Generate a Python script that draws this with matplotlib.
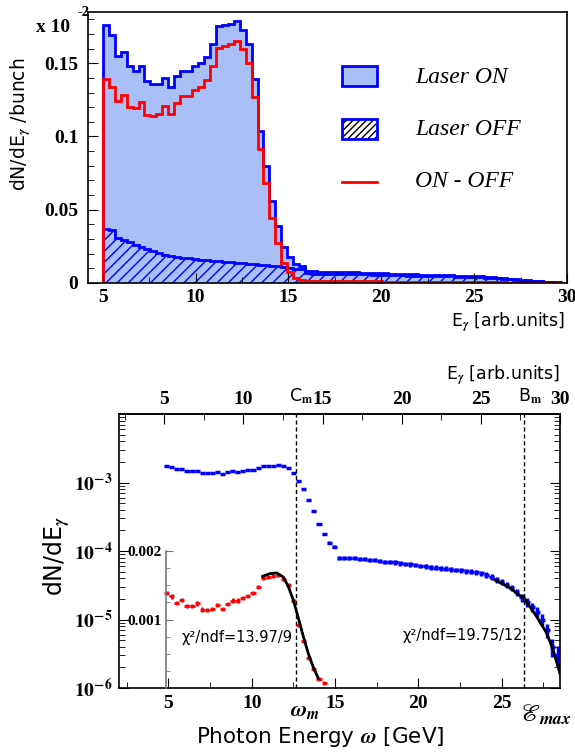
import numpy as np
import matplotlib
matplotlib.use('Agg')
import matplotlib.pyplot as plt
from matplotlib.patches import Rectangle
from matplotlib.lines import Line2D
from matplotlib.ticker import MultipleLocator, LogLocator, NullFormatter, FixedLocator, FuncFormatter

plt.rcParams['font.family'] = 'Liberation Serif'
plt.rcParams['font.weight'] = 'bold'
plt.rcParams['mathtext.fontset'] = 'stix'
plt.rcParams['hatch.linewidth'] = 1.0
plt.rcParams['axes.linewidth'] = 1.2

SANS = 'DejaVu Sans'
BLUE = '#0000ff'
RED = '#ff0000'
LIGHT = '#a9bff5'

# histogram bins in E_gamma (arb. units)
e_edges = np.linspace(5, 30, 79)

# dN/dE per bunch, in units of 1e-2
laser_on = np.array([
    0.176, 0.1696, 0.155, 0.158, 0.148, 0.145, 0.148, 0.138, 0.136, 0.136,
    0.140, 0.134, 0.141, 0.145, 0.1445, 0.148, 0.150, 0.154, 0.163, 0.1755,
    0.176, 0.177, 0.1787, 0.173, 0.163, 0.1395, 0.104, 0.080, 0.0558, 0.0387,
    0.0246, 0.0178, 0.0132,
    0.0116, 0.0080, 0.0079, 0.0078, 0.0078, 0.0077, 0.0076, 0.0075, 0.0074, 0.0072,
    0.0070, 0.0070, 0.0068, 0.0066, 0.0065, 0.0064, 0.0063, 0.0061, 0.0060, 0.0058,
    0.0057, 0.0056, 0.0055, 0.0054, 0.0053, 0.0052, 0.0051, 0.0050, 0.0049, 0.0047,
    0.0045, 0.0042, 0.0038, 0.0035, 0.0032, 0.0029, 0.0025, 0.0021, 0.0018, 0.0015,
    0.0013, 0.0010, 0.0007, 0.0004, 0.0003])

laser_off = np.array([
    0.037, 0.036, 0.031, 0.0296, 0.028, 0.0257, 0.0246, 0.0234, 0.0218, 0.0207,
    0.0193, 0.0184, 0.0178, 0.0173, 0.0168, 0.0164, 0.0160, 0.0155, 0.0152, 0.0149,
    0.0145, 0.0141, 0.0138, 0.0134, 0.0131, 0.0128, 0.0124, 0.0120, 0.0117, 0.0113,
    0.0108, 0.0103, 0.0098,
    0.0094, 0.0066, 0.0064, 0.0063, 0.0063, 0.0062, 0.0062, 0.0061, 0.0060, 0.0059,
    0.0058, 0.0058, 0.0057, 0.0055, 0.0055, 0.0054, 0.0053, 0.0052, 0.0051, 0.0050,
    0.0049, 0.0048, 0.0047, 0.0047, 0.0046, 0.0045, 0.0044, 0.0043, 0.0042, 0.0041,
    0.0039, 0.0037, 0.0034, 0.0031, 0.0028, 0.0026, 0.0022, 0.0019, 0.0016, 0.0013,
    0.0011, 0.0008, 0.0006, 0.0003, 0.0002])

on_minus_off = laser_on - laser_off

omega_per_e = 0.95      # photon energy omega = 0.95 * E_gamma
n_inset = 32            # bins drawn in the linear inset

# fitted curves
fit_edge_w = [10.65, 11.1, 11.5, 11.9, 12.2, 12.5, 12.8, 13.1, 13.4, 13.7, 14.0]
fit_edge_v = [0.00163, 0.00167, 0.00168, 0.00162, 0.00148, 0.00128, 0.00102,
              0.00075, 0.0005, 0.0003, 0.00014]
fit_end_w = [24.6, 25.5, 26.4, 27.1, 27.7, 28.1, 28.5]
fit_end_v = [3.8e-5, 2.9e-5, 1.95e-5, 1.1e-5, 6.3e-6, 3.5e-6, 1.6e-6]

omega_cm = 12.64
omega_bm = 26.35

fig = plt.figure(figsize=(5.75, 7.53), dpi=100)

# ---------------- top panel ----------------
ax1 = fig.add_axes([0.1530, 0.6242, 0.8330, 0.3599])
ax1.stairs(laser_on, e_edges, fill=True, facecolor=LIGHT, edgecolor=LIGHT, lw=0)
ax1.stairs(laser_off, e_edges, fill=True, facecolor='none', edgecolor=BLUE, hatch='///', lw=0)
ax1.stairs(laser_off, e_edges, color=BLUE, lw=2)
ax1.stairs(laser_on, e_edges, color=BLUE, lw=2)
ax1.stairs(on_minus_off, e_edges, color=RED, lw=2)

ax1.set_xlim(4.2, 30)
ax1.set_ylim(0, 0.185)
ax1.set_xticks([5, 10, 15, 20, 25, 30])
ax1.xaxis.set_minor_locator(MultipleLocator(2.5))
ax1.set_yticks([0, 0.05, 0.1, 0.15])
ax1.set_yticklabels(['0', '0.05', '0.1', '0.15'])
ax1.yaxis.set_minor_locator(MultipleLocator(0.01))
ax1.tick_params(which='both', direction='in', labelsize=14)
ax1.tick_params(which='major', length=7)
ax1.tick_params(which='minor', length=4)
ax1.tick_params(axis='y', pad=7)
ax1.tick_params(axis='x', pad=4)

fig.text(0.0626, 0.964, 'x 10', fontsize=14, va='center', ha='left')
fig.text(0.134, 0.983, '-2', fontsize=10.5, va='center', ha='left')

ax1.text(-0.14, 0.587, r'dN/dE$_\gamma$ /bunch', transform=ax1.transAxes, rotation=90,
         ha='center', va='center', fontsize=13.5, family=SANS, fontweight='normal')
ax1.text(0.996, -0.144, r'E$_\gamma$ [arb.units]', transform=ax1.transAxes,
         ha='right', va='center', fontsize=12.5, family=SANS, fontweight='normal')

# legend
ax1.add_patch(Rectangle((0.530, 0.727), 0.073, 0.074, transform=ax1.transAxes,
                        facecolor=LIGHT, edgecolor=BLUE, lw=2))
ax1.add_patch(Rectangle((0.530, 0.531), 0.073, 0.074, transform=ax1.transAxes,
                        facecolor='white', edgecolor='black', hatch='/////', lw=0))
ax1.add_patch(Rectangle((0.530, 0.531), 0.073, 0.074, transform=ax1.transAxes,
                        facecolor='none', edgecolor=BLUE, lw=2))
ax1.add_line(Line2D([0.530, 0.603], [0.373, 0.373], transform=ax1.transAxes, color=RED, lw=2))
for y, lab in [(0.760, 'Laser ON'), (0.568, 'Laser OFF'), (0.376, 'ON - OFF')]:
    ax1.text(0.683, y, lab, transform=ax1.transAxes, fontsize=17, style='italic',
             fontweight='normal', va='center', ha='left')

# ---------------- bottom panel ----------------
rect = [0.2070, 0.0863, 0.7670, 0.3639]
ax2 = fig.add_axes(rect)
e_centers = 0.5 * (e_edges[1:] + e_edges[:-1])
w_centers = omega_per_e * e_centers
w_half = omega_per_e * np.diff(e_edges) / 2

on_abs = laser_on * 1e-2
ax2.set_yscale('log')
ax2.errorbar(w_centers, on_abs, xerr=w_half, yerr=on_abs * 0.006 / np.sqrt(laser_on),
             fmt='none', ecolor=BLUE, elinewidth=2.5, capsize=0)
ax2.plot(fit_end_w, fit_end_v, color='black', lw=2)
ax2.axvline(omega_cm, color='black', lw=1, ls=(0, (3, 2)))
ax2.axvline(omega_bm, color='black', lw=1, ls=(0, (3, 2)))

ax2.set_xlim(2.04, 28.5)
ax2.set_ylim(1e-6, 1e-2)
ax2.set_xticks([5, 10, 15, 20, 25])
ax2.xaxis.set_minor_locator(MultipleLocator(2.5))
ax2.set_yticks([1e-6, 1e-5, 1e-4, 1e-3])
ax2.yaxis.set_major_formatter(FuncFormatter(lambda v, p: r'$\mathbf{10^{%d}}$' % round(np.log10(v))))
ax2.yaxis.set_minor_locator(LogLocator(base=10, subs=np.arange(2, 10) * 1.0, numticks=20))
ax2.yaxis.set_minor_formatter(NullFormatter())
ax2.tick_params(which='both', direction='in', labelsize=14, top=False, right=True)
ax2.tick_params(which='major', length=7)
ax2.tick_params(which='minor', length=4)
ax2.tick_params(axis='y', pad=5)
ax2.tick_params(axis='x', pad=5)

sec = ax2.secondary_xaxis('top', functions=(lambda w: w / omega_per_e, lambda e: e * omega_per_e))
sec.set_xticks([5, 10, 15, 20, 25, 30])
sec.xaxis.set_minor_locator(MultipleLocator(2.5))
sec.tick_params(which='both', direction='in', labelsize=14, pad=4)
sec.tick_params(which='major', length=7)
sec.tick_params(which='minor', length=4)

ax2.text(0.456, -0.179, r'Photon Energy $\omega$ [GeV]', transform=ax2.transAxes,
         ha='center', va='center', fontsize=15.5, family=SANS, fontweight='normal')
ax2.text(-0.141, 0.482, r'dN/dE$_\gamma$', transform=ax2.transAxes, rotation=90,
         ha='center', va='center', fontsize=17, family=SANS, fontweight='normal')
ax2.text(1.0, 1.142, r'E$_\gamma$ [arb.units]', transform=ax2.transAxes,
         ha='right', va='center', fontsize=12.5, family=SANS, fontweight='normal')

xtr = ax2.get_xaxis_transform()
ax2.text(omega_cm + 0.3, 1.066, r'C$_\mathsf{m}$', transform=xtr, ha='center', va='center',
         fontsize=12.5, family=SANS, fontweight='normal')
ax2.text(omega_bm + 0.35, 1.066, r'B$_\mathsf{m}$', transform=xtr, ha='center', va='center',
         fontsize=12.5, family=SANS, fontweight='normal')
ax2.text(13.2, -0.084, r'$\omega_m$', transform=xtr, ha='center', va='center',
         fontsize=16, fontweight='normal')
ax2.text(27.65, -0.099, '\u2130' + r'$_{max}$', transform=xtr, ha='center', va='center',
         fontsize=18, family='STIXGeneral', style='italic', fontweight='normal')

ax2.text(0.143, 0.186, '\u03c7\u00b2/ndf=13.97/9', transform=ax2.transAxes,
         ha='left', va='center', fontsize=10.5, family=SANS, fontweight='normal')
ax2.text(0.642, 0.190, '\u03c7\u00b2/ndf=19.75/12', transform=ax2.transAxes,
         ha='left', va='center', fontsize=10.5, family=SANS, fontweight='normal')

# linear inset for ON - OFF
ax3 = fig.add_axes(rect)
ax3.patch.set_visible(False)
ax3.set_xlim(ax2.get_xlim())
ax3.set_ylim(0, 0.004)
ax3.errorbar(w_centers[:n_inset], on_minus_off[:n_inset] * 1e-2, xerr=w_half[:n_inset],
             yerr=0.00003, fmt='none', ecolor=RED, elinewidth=2, capsize=0)
ax3.plot(fit_edge_w, fit_edge_v, color='black', lw=2)
for s in ['top', 'right', 'bottom']:
    ax3.spines[s].set_visible(False)
ax3.spines['left'].set_position(('data', 4.85))
ax3.spines['left'].set_bounds(0, 0.002)
ax3.spines['left'].set_color('#777777')
ax3.set_yticks([0.001, 0.002])
ax3.set_yticklabels(['0.001', '0.002'])
ax3.yaxis.set_minor_locator(FixedLocator([0.00025, 0.0005, 0.00075, 0.00125, 0.0015, 0.00175]))
ax3.tick_params(axis='y', which='both', direction='in', color='#777777', labelsize=11, pad=3)
ax3.tick_params(axis='y', which='major', length=5)
ax3.tick_params(axis='y', which='minor', length=3)
ax3.xaxis.set_visible(False)

fig.savefig('out.png', dpi=100)
